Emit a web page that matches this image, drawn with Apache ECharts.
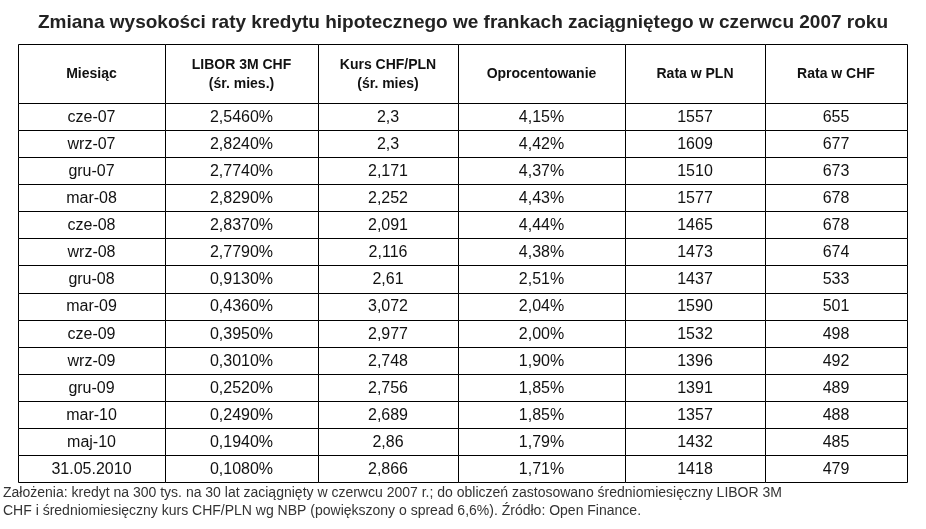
<!DOCTYPE html>
<html>
<head>
<meta charset="utf-8">
<script src="https://cdn.jsdelivr.net/npm/echarts@6/dist/echarts.min.js"></script>
<style>
html, body { margin: 0; padding: 0; background: #fff; }
#chart { width: 926px; height: 529px; }
</style>
</head>
<body>
<div id="chart"></div>
<script>
var headers = ['Miesiąc', 'LIBOR 3M CHF\n(śr. mies.)', 'Kurs CHF/PLN\n(śr. mies)', 'Oprocentowanie', 'Rata w PLN', 'Rata w CHF'];
var months = ['cze-07', 'wrz-07', 'gru-07', 'mar-08', 'cze-08', 'wrz-08', 'gru-08', 'mar-09', 'cze-09', 'wrz-09', 'gru-09', 'mar-10', 'maj-10', '31.05.2010'];
var libor = ['2,5460%', '2,8240%', '2,7740%', '2,8290%', '2,8370%', '2,7790%', '0,9130%', '0,4360%', '0,3950%', '0,3010%', '0,2520%', '0,2490%', '0,1940%', '0,1080%'];
var kurs = ['2,3', '2,3', '2,171', '2,252', '2,091', '2,116', '2,61', '3,072', '2,977', '2,748', '2,756', '2,689', '2,86', '2,866'];
var oproc = ['4,15%', '4,42%', '4,37%', '4,43%', '4,44%', '4,38%', '2,51%', '2,04%', '2,00%', '1,90%', '1,85%', '1,85%', '1,79%', '1,71%'];
var rataPln = [1557, 1609, 1510, 1577, 1465, 1473, 1437, 1590, 1532, 1396, 1391, 1357, 1432, 1418];
var rataChf = [655, 677, 673, 678, 678, 674, 533, 501, 498, 492, 489, 488, 485, 479];

var colWidths = [147, 153, 140, 167, 140, 142];
var headerH = 59;

var cells = [];
headers.forEach(function (h, c) { cells.push([c, 0, h, 1]); });
var cols = [months, libor, kurs, oproc, rataPln, rataChf];
months.forEach(function (m, r) {
  cols.forEach(function (col, c) { cells.push([c, r + 1, String(col[r]), 0]); });
});

var chart = echarts.init(document.getElementById('chart'));
chart.setOption({
  backgroundColor: '#fff',
  animation: false,
  title: {
    text: 'Zmiana wysokości raty kredytu hipotecznego we frankach zaciągniętego w czerwcu 2007 roku',
    left: 'center', top: 8,
    textStyle: { fontFamily: 'Liberation Sans', fontSize: 19, fontWeight: 'bold', color: '#222' }
  },
  grid: { left: 18, right: 19, top: 44, bottom: 47 },
  xAxis: { type: 'value', min: 0, max: 6, show: false },
  yAxis: { type: 'value', min: 0, max: 15, show: false },
  series: [{
    type: 'custom',
    data: cells,
    renderItem: function (params, api) {
      var cs = params.coordSys;
      var c = api.value(0), r = api.value(1), isHead = api.value(3);
      var total = colWidths.reduce(function (a, b) { return a + b; }, 0);
      var x = cs.x, i;
      for (i = 0; i < c; i++) x += colWidths[i] * cs.width / total;
      var w = colWidths[c] * cs.width / total;
      var rowH = (cs.height - headerH) / months.length;
      var y = r === 0 ? cs.y : cs.y + headerH + (r - 1) * rowH;
      var h = r === 0 ? headerH : rowH;
      var x0 = Math.round(x) + 0.5, y0 = Math.round(y) + 0.5;
      var x1 = Math.round(x + w) + 0.5, y1 = Math.round(y + h) + 0.5;
      return {
        type: 'group',
        children: [{
          type: 'rect',
          shape: { x: x0, y: y0, width: x1 - x0, height: y1 - y0 },
          style: { fill: '#fff', stroke: '#000', lineWidth: 1 }
        }, {
          type: 'text',
          style: {
            x: x + w / 2, y: y + h / 2 + 1,
            text: cells[params.dataIndex][2],
            align: 'center', verticalAlign: 'middle',
            fontFamily: 'Liberation Sans',
            fontSize: isHead ? 14 : 16,
            fontWeight: isHead ? 'bold' : 'normal',
            lineHeight: 19,
            fill: '#111'
          }
        }]
      };
    }
  }],
  graphic: [{
    type: 'text', left: 3, top: 484,
    style: {
      text: 'Założenia: kredyt na 300 tys. na 30 lat zaciągnięty w czerwcu 2007 r.; do obliczeń zastosowano średniomiesięczny LIBOR 3M\nCHF i średniomiesięczny kurs CHF/PLN wg NBP (powiększony o spread 6,6%). Źródło: Open Finance.',
      fontFamily: 'Liberation Sans', fontSize: 14, lineHeight: 18, fill: '#333'
    }
  }]
});
</script>
</body>
</html>
